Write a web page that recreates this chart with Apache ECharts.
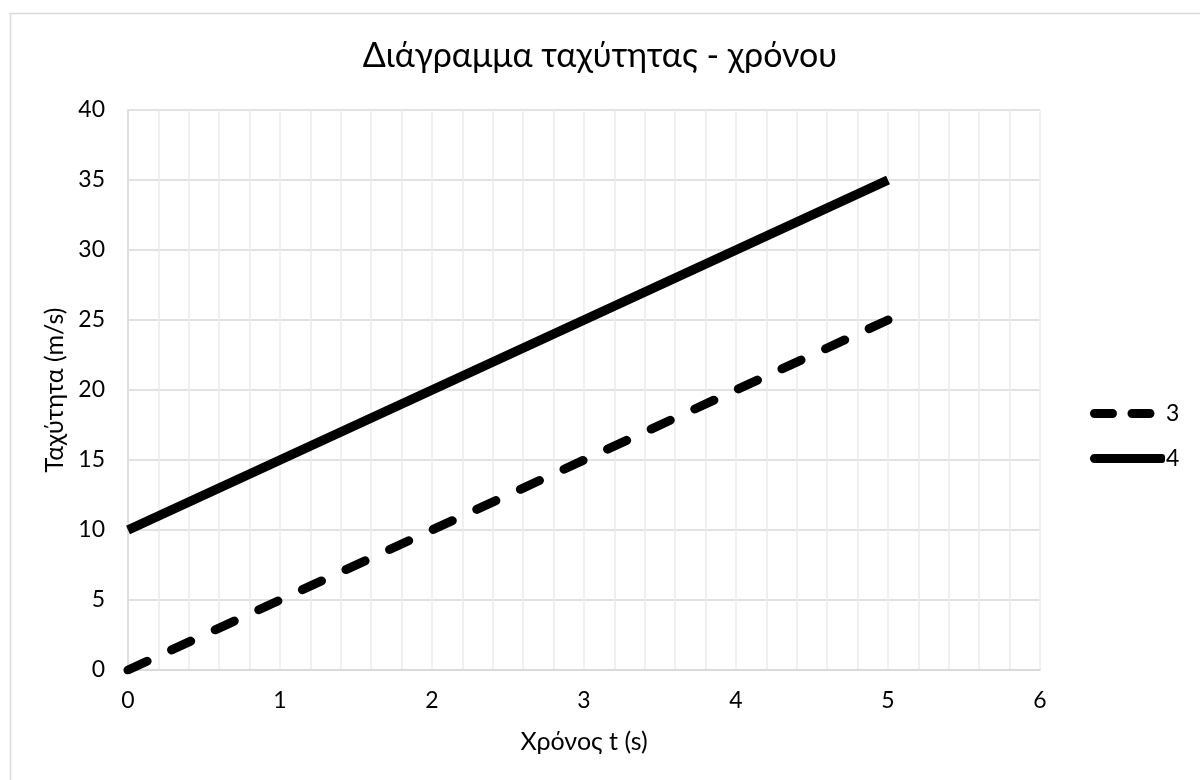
<!DOCTYPE html>
<html>
<head>
<meta charset="utf-8">
<script src="https://cdn.jsdelivr.net/npm/echarts@6/dist/echarts.min.js"></script>
<style>html,body{margin:0;padding:0;background:#fff;}#c{width:1200px;height:780px;}</style>
</head>
<body>
<div id="c"></div>
<script>
const titleText = 'Διάγραμμα ταχύτητας - χρόνου';
const xName = 'Χρόνος t (s)';
const yName = 'Ταχύτητα (m/s)';
const times = [0, 1, 2, 3, 4, 5];
const series3 = [0, 5, 10, 15, 20, 25];
const series4 = [10, 15, 20, 25, 30, 35];
const seriesNames = ['3', '4'];

const FONT = 'Lato, "Open Sans", sans-serif';
const chart = echarts.init(document.getElementById('c'));
const pairs = (ys) => times.map((t, i) => [t, ys[i]]);

// legend icons (75 x 9 box): dashed pair and solid bar with rounded ends
const dashIcon = 'path://M4.5,0H22.5A4.5,4.5 0 0 1 22.5,9H4.5A4.5,4.5 0 0 1 4.5,0Z' +
  'M42,0H60A4.5,4.5 0 0 1 60,9H42A4.5,4.5 0 0 1 42,0Z' +
  'M74.98,4.5H75V4.52H74.98Z';
const solidIcon = 'path://M4.5,0H72A3,3 0 0 1 75,3V6A3,3 0 0 1 72,9H4.5A4.5,4.5 0 0 1 4.5,0Z';

chart.setOption({
  animation: false,
  backgroundColor: '#fff',
  graphic: [{
    type: 'rect', left: 8, top: 11, silent: true, z: -10,
    shape: { width: 1300, height: 900 },
    style: { fill: 'none', stroke: '#d9d9d9', lineWidth: 1.5 }
  }],
  title: {
    text: titleText, left: 'center', top: 34,
    textStyle: { fontFamily: FONT, fontSize: 34, fontWeight: 'normal', color: '#000' }
  },
  legend: {
    orient: 'vertical', left: 1085, top: 397, itemGap: 22,
    itemWidth: 75, itemHeight: 9,
    itemStyle: { borderWidth: 0 },
    data: [
      { name: seriesNames[0], icon: dashIcon },
      { name: seriesNames[1], icon: solidIcon }
    ],
    textStyle: { fontFamily: FONT, fontSize: 23, lineHeight: 22, color: '#000', padding: [0, 0, 0, -4] }
  },
  grid: { left: 128, top: 110, right: 160, bottom: 110, containLabel: false },
  xAxis: {
    type: 'value', min: 0, max: 6, interval: 1,
    name: xName, nameLocation: 'middle', nameGap: 59,
    nameTextStyle: { fontFamily: FONT, fontSize: 25, color: '#000' },
    axisLine: { show: true, lineStyle: { color: '#d9d9d9', width: 1.5 } },
    axisTick: { show: false },
    axisLabel: { fontFamily: FONT, fontSize: 23, color: '#000', margin: 19 },
    splitLine: { show: true, lineStyle: { color: '#ececec', width: 1.5 } },
    minorTick: { show: false, splitNumber: 5 },
    minorSplitLine: { show: true, lineStyle: { color: '#ececec', width: 1.5 } }
  },
  yAxis: {
    type: 'value', min: 0, max: 40, interval: 5,
    name: yName, nameLocation: 'middle', nameGap: 58, nameRotate: 90,
    nameTextStyle: { fontFamily: FONT, fontSize: 25, color: '#000' },
    axisLine: { show: true, lineStyle: { color: '#d9d9d9', width: 1.5 } },
    axisTick: { show: false },
    axisLabel: { fontFamily: FONT, fontSize: 23, color: '#000', margin: 23 },
    splitLine: { show: true, lineStyle: { color: '#d9d9d9', width: 1.5 } }
  },
  series: [
    {
      name: seriesNames[0], type: 'line', data: pairs(series3), showSymbol: false, symbol: 'none',
      lineStyle: { color: '#000', width: 9, type: [21, 27], cap: 'round' },
      itemStyle: { color: '#000', borderWidth: 0 }
    },
    {
      name: seriesNames[1], type: 'line', data: pairs(series4), showSymbol: false, symbol: 'none',
      lineStyle: { color: '#000', width: 9.5, type: 'solid', cap: 'butt' },
      itemStyle: { color: '#000', borderWidth: 0 }
    }
  ]
});
</script>
</body>
</html>
